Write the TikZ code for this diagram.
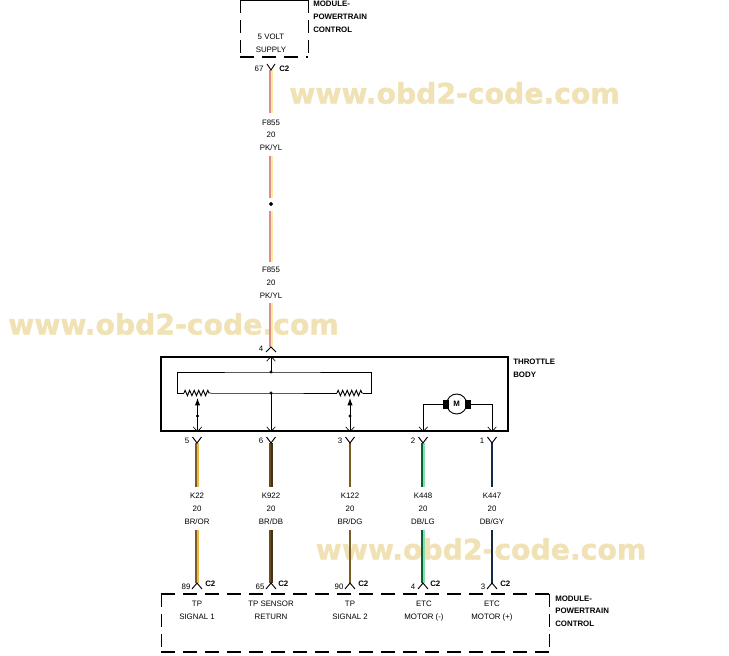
\documentclass[tikz,border=0pt]{standalone}
\usepackage{fontspec}
\setmainfont{Liberation Sans}
\newfontfamily\markfont[BoldFeatures={FakeBold=1.2}]{DejaVu Sans}
\usetikzlibrary{arrows.meta, decorations.pathmorphing}

\definecolor{markcol}{HTML}{F0E2B4}
\definecolor{pink}{HTML}{DC8E86}
\definecolor{paleyl}{HTML}{FBE9A6}
\definecolor{brown}{HTML}{7A5C24}
\definecolor{amber}{HTML}{F0B848}
\definecolor{darkbl}{HTML}{12294A}
\definecolor{ltgreen}{HTML}{7FE0B0}

\tikzset{
	txt/.style={inner sep=0pt, font=\fontsize{5.9}{6}\selectfont, text=black},
	txtb/.style={txt, anchor=west, font=\fontsize{5.9}{6}\selectfont\bfseries},
	watermark/.style={inner sep=0pt, text=markcol, font=\markfont\fontsize{21.2}{22}\selectfont\bfseries},
	line/.style={black, line width=0.7pt},
	body/.style={black, line width=1.5pt},
	longdash/.style={black, line width=1.5pt, dash pattern=on 10.5pt off 6pt},
	sidedash/.style={black, line width=0.75pt, dash pattern=on 10pt off 5pt},
	opentip/.style={-{Straight Barb[length=3.5pt, width=6.5pt, line width=0.5pt]}},
	filltip/.style={-{Latex[length=5.5pt, width=4pt]}},
	res/.style={decorate, decoration={zigzag, amplitude=2pt, segment length=3.4pt}},
}

% two coloured halves of one wire, #5 is the shift of each half
\newcommand{\wirerun}[5]{
	\draw[#3, line width=1.2pt]	([xshift=-#5pt]#1) to ([xshift=-#5pt]#2);
	\draw[#4, line width=1.2pt]	([xshift=#5pt]#1) to ([xshift=#5pt]#2);
}

\begin{document}
\begin{tikzpicture}[x=0.75pt, y=-0.75pt]
	\useasboundingbox (0, 0) rectangle (729, 656);

	\node[watermark] (markone) at (454.5, 93) {www.obd2-code.com};
	\node[watermark] (marktwo) at (173.5, 324) {www.obd2-code.com};
	\node[watermark] (markthree) at (481, 549) {www.obd2-code.com};

	% upper module
	\coordinate (ua) at (240, 0);
	\coordinate (ub) at (308, 0);
	\coordinate (uc) at (308, 57);
	\coordinate (ud) at (240, 57);
	\draw[line]		(ua) to (ub);
	\draw[sidedash]	(ua) to (ud);
	\draw[sidedash]	(ub) to (uc);
	\draw[longdash]	(ud) to (uc);
	\node[txt] (volt) at (271, 37) {5 VOLT};
	\node[txt] (supply) at (271, 50) {SUPPLY};
	\node[txtb] (umoda) at (313, 4) {MODULE-};
	\node[txtb] (umodb) at (313, 17) {POWERTRAIN};
	\node[txtb] (umodc) at (313, 30) {CONTROL};

	% supply wire
	\node[txt] (pinup) at (259, 69) {67};
	\node[txtb] at (279, 69) (cup) {C2};
	\coordinate (fa) at (271, 70);
	\coordinate (fb) at (271, 113);
	\coordinate (fc) at (271, 156);
	\coordinate (fd) at (271, 198);
	\coordinate (fe) at (271, 211);
	\coordinate (ff) at (271, 262);
	\coordinate (fg) at (271, 303);
	\coordinate (fh) at (271, 347);
	\wirerun{fa}{fb}{pink}{paleyl}{0.6}
	\wirerun{fc}{fd}{pink}{paleyl}{0.6}
	\wirerun{fe}{ff}{pink}{paleyl}{0.6}
	\wirerun{fg}{fh}{pink}{paleyl}{0.6}
	\draw[line]		(267, 64) to (271, 70) to (275, 64);
	\draw[line]		(266, 352) to (271, 347) to (276, 352);
	\filldraw[black]	(271, 204) circle (1.7);
	\node[txt] (fnamea) at (271, 123) {F855};
	\node[txt] (fgaugea) at (271, 135) {20};
	\node[txt] (fcola) at (271, 148) {PK/YL};
	\node[txt] (fnameb) at (271, 270) {F855};
	\node[txt] (fgaugeb) at (271, 283) {20};
	\node[txt] (fcolb) at (271, 296) {PK/YL};
	\node[txt] (pinfour) at (261, 349) {4};

	% throttle body
	\node[draw, body, inner sep=0pt, minimum width=260.25pt, minimum height=55.5pt] (tb) at (334.5, 394) {};
	\node[txtb] (tba) at (513, 362) {THROTTLE};
	\node[txtb] (tbb) at (513, 375) {BODY};

	\coordinate (ta) at (271, 372);
	\coordinate (tc) at (271, 393);
	\coordinate (rla) at (184, 393);
	\coordinate (rlb) at (211, 393);
	\coordinate (rra) at (337, 393);
	\coordinate (rrb) at (363, 393);
	\draw[line]		(rla) to (177, 393) to (177, 372) to (ta) to (371, 372) to (371, 393) to (rrb);
	\draw[line]		(rlb) to (tc) to (rra);
	\draw[line, res]	(rla) to (rlb);
	\draw[line, res]	(rra) to (rrb);
	\draw[line, opentip]	(ta) to (tb.north -| ta);
	\draw[line, opentip]	(tc) to (tb.south -| tc);
	\filldraw[black]	(ta) circle (1.2)
						(tc) circle (1.2)
						(197.5, 416) circle (1.2)
						(350, 416) circle (1.2);

	% sliders
	\coordinate (sla) at (197.5, 416);
	\coordinate (sra) at (350, 416);
	\draw[line, filltip]	(sla) to (197.5, 398);
	\draw[line, opentip]	(sla) to (tb.south -| sla);
	\draw[line, filltip]	(sra) to (350, 398);
	\draw[line, opentip]	(sra) to (tb.south -| sra);

	% motor
	\node[draw, circle, line, inner sep=0pt, minimum size=15pt, txt, font=\fontsize{5.9}{6}\selectfont\bfseries] (motor) at (456.7, 404) {M};
	\filldraw[black]	(443, 400) rectangle (448, 408)
						(465, 400) rectangle (470, 408);
	\coordinate (ma) at (443, 404);
	\coordinate (mb) at (470, 404);
	\draw[line, opentip]	(ma) to (423.3, 404) to (tb.south -| 423.3, 404);
	\draw[line, opentip]	(mb) to (492, 404) to (tb.south -| 492, 404);

	% lower wires
	\foreach \px/\pname/\pa/\pb/\ps/\pcolor/\pin/\pinb/\pinx/\cx in {
		197/K22/brown/amber/0.6/BR\slash OR/5/89/186/205,
		271/K922/brown!85!black/brown!55!black/0.6/BR\slash DB/6/65/260/278,
		350/K122/brown/brown/0.2/BR\slash DG/3/90/339/358,
		423/K448/darkbl!75!green/ltgreen/0.6/DB\slash LG/2/4/413/430,
		492/K447/darkbl/darkbl/0.2/DB\slash GY/1/3/483/500} {
		\coordinate (wa\pin) at (\px, 443);
		\coordinate (wb\pin) at (\px, 487);
		\coordinate (wc\pin) at (\px, 530);
		\coordinate (wd\pin) at (\px, 583);
		\wirerun{wa\pin}{wb\pin}{\pa}{\pb}{\ps}
		\wirerun{wc\pin}{wd\pin}{\pa}{\pb}{\ps}
		\draw[line]	(\px-4.5, 437) to (wa\pin) to (\px+4.5, 437);
		\draw[line]	(\px-5, 589) to (wd\pin) to (\px+5, 589);
		\node[txt] (pa\pin) at (\px-10, 441) {\pin};
		\node[txt] (na\pin) at (\px, 496) {\pname};
		\node[txt] (ga\pin) at (\px, 509) {20};
		\node[txt] (ca\pin) at (\px, 522) {\pcolor};
		\node[txt] (pb\pin) at (\pinx, 587) {\pinb};
		\node[txtb] (cb\pin) at (\cx, 584) {C2};
	}

	% lower module
	\coordinate (la) at (161, 594);
	\coordinate (lb) at (549, 594);
	\coordinate (lc) at (549, 652);
	\coordinate (ld) at (161, 652);
	\draw[longdash]	(la) to (lb);
	\draw[longdash]	(ld) to (lc);
	\draw[sidedash]	(la) to (ld);
	\draw[sidedash]	(lb) to (lc);
	\foreach \px/\ta/\tb/\nm in {197/TP/SIGNAL 1/a, 271/TP SENSOR/RETURN/b, 350/TP/SIGNAL 2/c, 424/ETC/MOTOR (-)/d, 492/ETC/MOTOR (+)/e} {
		\node[txt] (lta\nm) at (\px, 604) {\ta};
		\node[txt] (ltb\nm) at (\px, 617) {\tb};
	}
	\node[txtb] (lmoda) at (555, 599) {MODULE-};
	\node[txtb] (lmodb) at (555, 611) {POWERTRAIN};
	\node[txtb] (lmodc) at (555, 624) {CONTROL};
\end{tikzpicture}
\end{document}
